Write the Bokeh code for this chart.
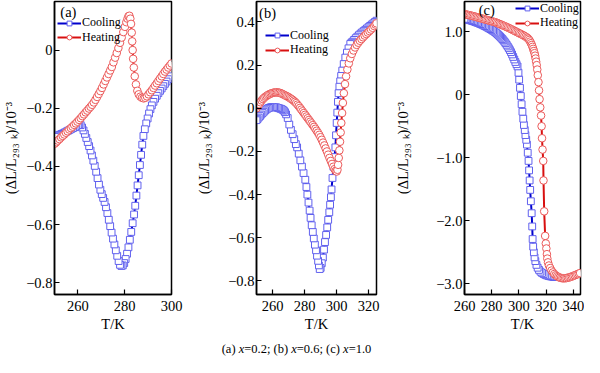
from bokeh.plotting import figure
from bokeh.models import (Range1d, FixedTicker, CustomJSTickFormatter, Label, Div,
                          ColumnDataSource, Legend, LegendItem)
from bokeh.layouts import row, column
from bokeh.embed import file_html
from bokeh.resources import INLINE

# ---------------- data (T in K, dL/L in 1e-3) ----------------
a_cool = [(300.0,-0.080),(299.3,-0.090),(298.6,-0.100),(297.9,-0.108),(297.2,-0.116),(296.5,-0.124),
          (295.8,-0.132),(295.1,-0.140),(294.4,-0.148),(293.7,-0.157),(293.0,-0.167),(292.3,-0.178),
          (291.6,-0.190),(291.0,-0.203),(290.4,-0.218),(289.8,-0.235),(289.2,-0.252),(288.6,-0.272),
          (288.0,-0.295),(287.5,-0.325),(287.0,-0.360),(286.5,-0.395),(286.0,-0.430),(285.5,-0.465),
          (285.0,-0.500),(284.5,-0.535),(284.0,-0.565),(283.4,-0.595),(282.8,-0.625),(282.2,-0.652),
          (281.6,-0.678),(281.0,-0.700),(280.4,-0.718),(279.8,-0.732),(279.2,-0.740),(278.6,-0.742),
          (278.0,-0.738),(277.4,-0.725),(276.8,-0.707),(276.2,-0.688),(275.6,-0.668),(275.0,-0.648),
          (274.4,-0.627),(273.8,-0.605),(273.2,-0.583),(272.6,-0.560),(272.0,-0.540),(271.4,-0.522),
          (270.8,-0.508),(270.2,-0.495),(269.6,-0.480),(269.0,-0.462),(268.4,-0.440),(267.8,-0.418),
          (267.2,-0.398),(266.6,-0.380),(266.0,-0.362),(265.4,-0.345),(264.8,-0.330),(264.2,-0.316),
          (263.6,-0.302),(263.0,-0.288),(262.4,-0.276),(261.8,-0.266),(261.2,-0.258),(260.6,-0.256),
          (260.0,-0.258),(259.3,-0.262),(258.6,-0.265),(257.9,-0.268),(257.2,-0.271),(256.5,-0.274),
          (255.8,-0.277),(255.1,-0.280),(254.4,-0.283),(253.7,-0.286),(253.0,-0.288),(252.3,-0.291),
          (251.6,-0.293),(250.9,-0.296),(250.2,-0.298)]

a_heat = [(250.0,-0.322),(250.7,-0.317),(251.4,-0.311),(252.1,-0.306),(252.8,-0.300),(253.5,-0.295),
          (254.2,-0.290),(254.9,-0.284),(255.6,-0.279),(256.3,-0.273),(257.0,-0.268),(257.7,-0.263),
          (258.4,-0.257),(259.1,-0.252),(259.8,-0.246),(260.5,-0.240),(261.2,-0.234),(261.9,-0.227),
          (262.6,-0.221),(263.3,-0.214),(264.0,-0.208),(264.7,-0.201),(265.4,-0.195),(266.1,-0.188),
          (266.8,-0.180),(267.5,-0.171),(268.2,-0.161),(268.9,-0.151),(269.6,-0.141),(270.3,-0.130),
          (271.0,-0.118),(271.7,-0.106),(272.4,-0.094),(273.1,-0.082),(273.8,-0.070),(274.5,-0.058),
          (275.2,-0.042),(275.9,-0.026),(276.6,-0.010),(277.3,0.007),(278.0,0.025),(278.7,0.043),
          (279.4,0.062),(280.1,0.080),(280.7,0.096),(281.2,0.108),(281.6,0.116),(282.0,0.118),
          (282.4,0.108),(282.7,0.090),(283.0,0.060),(283.2,0.030),(283.4,0.000),(283.6,-0.030),
          (283.9,-0.060),(284.3,-0.090),(284.8,-0.118),(285.4,-0.140),(286.0,-0.152),(286.7,-0.160),
          (287.4,-0.164),(288.1,-0.166),(288.8,-0.164),(289.5,-0.159),(290.2,-0.152),(290.9,-0.145),
          (291.6,-0.138),(292.3,-0.130),(293.0,-0.122),(293.7,-0.114),(294.4,-0.106),(295.1,-0.098),
          (295.8,-0.090),(296.5,-0.082),(297.2,-0.074),(297.9,-0.067),(298.6,-0.060),(299.3,-0.053),
          (300.0,-0.046)]

b_cool = [(325.0,0.406),(324.0,0.400),(323.0,0.394),(322.0,0.388),(321.0,0.382),(320.0,0.376),
          (319.0,0.370),(318.0,0.364),(317.0,0.358),(316.0,0.352),(315.0,0.346),(314.0,0.339),
          (313.0,0.332),(312.0,0.325),(311.0,0.317),(310.0,0.309),(309.3,0.304),(308.6,0.298),
          (307.5,0.278),(306.5,0.258),(305.5,0.235),(304.5,0.205),(303.6,0.175),(302.9,0.150),
          (302.3,0.125),(301.8,0.100),(301.3,0.070),(300.9,0.030),(300.5,-0.020),(300.1,-0.068),
          (299.7,-0.125),(299.3,-0.181),(298.8,-0.226),(298.1,-0.271),(297.5,-0.323),(296.9,-0.376),
          (296.5,-0.412),(296.0,-0.447),(295.5,-0.482),(294.8,-0.517),(294.2,-0.552),(293.5,-0.587),
          (292.8,-0.620),(292.2,-0.655),(291.5,-0.692),(290.8,-0.718),(290.1,-0.740),(289.5,-0.745),
          (289.0,-0.728),(288.5,-0.707),(287.8,-0.683),(287.2,-0.658),(286.5,-0.632),(285.8,-0.603),
          (285.2,-0.573),(284.5,-0.542),(283.8,-0.508),(283.2,-0.474),(282.5,-0.437),(281.8,-0.400),
          (281.2,-0.365),(280.5,-0.331),(279.4,-0.300),(278.4,-0.270),(277.4,-0.241),(276.4,-0.210),
          (275.4,-0.181),(274.6,-0.166),(273.6,-0.143),(272.6,-0.120),(271.5,-0.100),(270.5,-0.075),
          (269.5,-0.045),(268.5,-0.028),(267.8,-0.018),(267.1,-0.011),(266.4,-0.007),(265.7,-0.004),
          (265.0,-0.002),(264.2,0.000),(263.4,0.002),(262.6,0.004),(261.8,0.005),(261.0,0.006),
          (260.2,0.006),(259.4,0.005),(258.6,0.004),(257.8,0.002),(257.0,-0.001),(256.2,-0.005),
          (255.4,-0.010),(254.6,-0.016),(253.8,-0.022),(253.0,-0.029),(252.2,-0.036),(251.4,-0.043),
          (250.6,-0.050),(250.0,-0.055)]

b_heat = [(250.0,0.000),(250.8,0.010),(251.6,0.019),(252.4,0.028),(253.2,0.036),(254.0,0.043),
          (254.8,0.049),(255.6,0.054),(256.4,0.058),(257.2,0.062),(258.0,0.065),(258.8,0.068),
          (259.6,0.070),(260.4,0.072),(261.2,0.073),(262.0,0.074),(262.8,0.074),(263.6,0.073),
          (264.4,0.072),(265.2,0.070),(266.0,0.067),(266.8,0.064),(267.6,0.061),(268.4,0.058),
          (269.2,0.055),(270.0,0.052),(270.8,0.048),(271.6,0.044),(272.4,0.040),(273.2,0.035),
          (274.0,0.030),(274.8,0.024),(275.6,0.017),(276.4,0.010),(277.2,0.002),(278.0,-0.006),
          (278.8,-0.014),(279.6,-0.022),(280.4,-0.030),(281.2,-0.038),(282.0,-0.046),(282.8,-0.054),
          (283.6,-0.062),(284.4,-0.070),(285.2,-0.078),(286.0,-0.086),(286.8,-0.095),(287.6,-0.104),
          (288.4,-0.113),(289.2,-0.123),(290.0,-0.134),(290.8,-0.146),(291.6,-0.159),(292.4,-0.172),
          (293.2,-0.186),(294.0,-0.200),(294.8,-0.215),(295.6,-0.230),(296.4,-0.244),(297.2,-0.258),
          (298.0,-0.271),(298.8,-0.282),(299.5,-0.290),(300.1,-0.293),(300.6,-0.285),(301.0,-0.262),
          (301.4,-0.230),(301.8,-0.195),(302.2,-0.155),(302.6,-0.112),(303.0,-0.068),(303.5,-0.022),
          (304.0,0.025),(304.6,0.070),(305.3,0.112),(306.0,0.148),(306.8,0.180),(307.7,0.208),
          (308.6,0.232),(309.6,0.252),(310.6,0.268),(311.6,0.282),(312.6,0.294),(313.6,0.304),
          (314.6,0.313),(315.6,0.321),(316.6,0.329),(317.6,0.337),(318.6,0.344),(319.6,0.351),
          (320.6,0.358),(321.6,0.365),(322.6,0.373),(323.6,0.381),(324.4,0.388),(325.0,0.394)]

c_cool = [(326.5,-2.894),(325.5,-2.891),(324.3,-2.887),(323.0,-2.882),(321.8,-2.876),(320.6,-2.868),
          (319.4,-2.858),(318.2,-2.845),(317.0,-2.828),(315.9,-2.808),(314.8,-2.780),(313.8,-2.745),
          (312.9,-2.700),(312.1,-2.640),(311.5,-2.580),(311.0,-2.500),(310.5,-2.410),(310.1,-2.290),
          (309.8,-2.090),(309.4,-1.880),(308.8,-1.690),(308.3,-1.510),(307.9,-1.360),(307.5,-1.200),
          (307.1,-1.050),(306.5,-0.920),(305.9,-0.790),(305.4,-0.715),(304.8,-0.640),(304.3,-0.560),
          (303.7,-0.480),(303.2,-0.380),(302.6,-0.270),(302.0,-0.150),(301.4,-0.020),(300.8,0.110),
          (300.2,0.240),(299.7,0.350),(299.0,0.450),(298.2,0.485),(297.4,0.520),(296.6,0.560),
          (295.8,0.600),(295.0,0.640),(294.2,0.676),(293.4,0.708),(292.6,0.738),(291.8,0.766),
          (291.0,0.793),(290.2,0.818),(289.4,0.842),(288.6,0.864),(287.8,0.885),(287.0,0.904),
          (286.2,0.922),(285.4,0.939),(284.6,0.955),(283.8,0.971),(283.0,0.986),(282.0,1.001),
          (281.0,1.015),(280.0,1.029),(279.0,1.042),(278.0,1.055),(277.0,1.067),(276.0,1.079),
          (275.0,1.090),(274.0,1.101),(273.0,1.111),(272.0,1.121),(271.0,1.130),(270.0,1.139),
          (269.0,1.147),(268.0,1.155),(267.0,1.163),(266.0,1.170),(265.0,1.177),(264.0,1.183),
          (263.0,1.189),(262.0,1.195),(261.0,1.200),(260.0,1.205)]

c_heat = [(260.0,1.280),(261.0,1.275),(262.0,1.270),(263.0,1.265),(264.0,1.260),(265.0,1.255),
          (266.0,1.250),(267.0,1.244),(268.0,1.238),(269.0,1.232),(270.0,1.226),(271.0,1.220),
          (272.0,1.214),(273.0,1.208),(274.0,1.202),(275.0,1.196),(276.0,1.190),(277.0,1.184),
          (278.0,1.178),(279.0,1.172),(280.0,1.166),(281.0,1.160),(282.0,1.154),(283.0,1.148),
          (284.0,1.139),(285.0,1.130),(286.0,1.121),(287.0,1.112),(288.0,1.103),(289.0,1.094),
          (290.0,1.085),(291.0,1.075),(292.0,1.065),(293.0,1.055),(294.0,1.045),(295.0,1.034),
          (296.0,1.023),(297.0,1.012),(298.0,1.001),(299.0,0.990),(300.0,0.979),(301.0,0.968),
          (302.0,0.957),(303.0,0.946),(304.0,0.934),(305.0,0.921),(306.0,0.906),(306.8,0.890),
          (307.6,0.870),(308.3,0.845),(308.9,0.818),(309.5,0.790),(310.0,0.760),(310.5,0.728),
          (311.0,0.694),(311.5,0.660),(311.9,0.620),(312.3,0.575),(312.7,0.525),(313.1,0.470),
          (313.5,0.400),(313.9,0.310),(314.4,0.200),(314.8,0.070),(315.2,-0.070),(315.7,-0.200),
          (316.3,-0.330),(316.7,-0.500),(317.0,-0.690),(317.4,-0.870),(317.9,-1.050),(318.1,-1.360),
          (318.6,-1.850),(319.3,-2.240),(319.8,-2.360),(320.2,-2.440),(320.6,-2.530),(320.9,-2.600),
          (321.4,-2.660),(322.1,-2.710),(323.0,-2.750),(324.0,-2.790),(325.0,-2.820),(326.0,-2.845),
          (327.0,-2.865),(328.0,-2.880),(329.0,-2.892),(330.0,-2.902),(331.0,-2.908),(332.0,-2.912),
          (333.0,-2.913),(334.0,-2.912),(335.0,-2.909),(336.0,-2.904),(337.0,-2.898),(338.0,-2.891),
          (339.0,-2.883),(340.0,-2.875),(341.0,-2.866),(342.0,-2.857),(343.0,-2.848),(344.0,-2.839),
          (345.0,-2.830)]

a_xticks = [260, 280, 300]
a_yticks = [-0.8, -0.6, -0.4, -0.2, 0.0]
b_xticks = [260, 280, 300, 320]
b_yticks = [-0.8, -0.6, -0.4, -0.2, 0.0, 0.2, 0.4]
c_xticks = [260, 280, 300, 320, 340]
c_yticks = [-3.0, -2.0, -1.0, 0.0, 1.0]

series_names = ["Cooling", "Heating"]
panel_tags = ["(a)", "(b)", "(c)"]
caption_html = "(a) <i>x</i>=0.2; (b) <i>x</i>=0.6; (c) <i>x</i>=1.0"
y_label = "(\u0394L/L\u2082\u2089\u2083 \u2096)/10\u207b\u00b3"
x_label = "T/K"

# ---------------- style ----------------
SERIF = "Liberation Serif"
COOL_LINE, COOL_MARK = "#0000cc", "#6060ee"
HEAT_LINE, HEAT_MARK = "#d81010", "#ec5a5a"
FIG_H = 341
FRAME_H = 293

yfmt = CustomJSTickFormatter(code="""
if (Math.abs(tick) < 1e-9) { return "0"; }
return tick.toFixed(1).replace("-", "\u2212");
""")


def src(pairs):
    return ColumnDataSource(data=dict(T=[p[0] for p in pairs], v=[p[1] for p in pairs]))


def style_legend(lg):
    lg.border_line_color = None
    lg.background_fill_alpha = 0
    lg.label_text_font = SERIF
    lg.label_text_font_size = "12px"
    lg.label_text_color = "black"
    lg.glyph_width = 24
    lg.glyph_height = 12
    lg.label_height = 12
    lg.label_standoff = 1
    lg.spacing = 0
    lg.padding = 0
    lg.margin = 0


def make_panel(width, left, right, xr, yr, xticks, yticks, label_standoff,
               cool, heat, tag, tag_xy, leg_x, row_offsets):
    p = figure(width=width, height=FIG_H, x_range=Range1d(*xr), y_range=Range1d(*yr),
               output_backend="svg", toolbar_location=None,
               min_border_left=left, min_border_right=right,
               min_border_top=1, min_border_bottom=FIG_H - 1 - FRAME_H, margin=0)
    p.grid.visible = False
    p.outline_line_color = "black"
    p.outline_line_width = 1.5
    p.background_fill_color = "white"
    p.border_fill_color = "white"

    for ax in (p.xaxis[0], p.yaxis[0]):
        ax.major_tick_in = 5
        ax.major_tick_out = 0
        ax.minor_tick_in = 0
        ax.minor_tick_out = 0
        ax.axis_line_width = 1.5
        ax.major_tick_line_width = 1.2
        ax.major_label_text_font = SERIF
        ax.major_label_text_font_size = "14.5px"
        ax.major_label_text_color = "black"
        ax.axis_label_text_font = SERIF
        ax.axis_label_text_font_size = "14.5px"
        ax.axis_label_text_font_style = "normal"
        ax.axis_label_text_color = "black"

    p.xaxis.ticker = FixedTicker(ticks=xticks, minor_ticks=[])
    p.yaxis.ticker = FixedTicker(ticks=yticks, minor_ticks=[])
    p.yaxis.formatter = yfmt
    p.xaxis.axis_label = x_label
    p.yaxis.axis_label = y_label
    p.xaxis.major_label_standoff = 6
    p.xaxis.axis_label_standoff = 2
    p.yaxis.major_label_standoff = 2
    p.yaxis.axis_label_standoff = label_standoff

    cs, hs = src(cool), src(heat)
    cl = p.line("T", "v", source=cs, line_color=COOL_LINE, line_width=2)
    cm = p.scatter("T", "v", source=cs, marker="square", size=6.8, line_color=COOL_MARK,
                   fill_color="white", line_width=1)
    hl = p.line("T", "v", source=hs, line_color=HEAT_LINE, line_width=2)
    hm = p.scatter("T", "v", source=hs, marker="circle", size=7.6, line_color=HEAT_MARK,
                   fill_color="white", line_width=1)

    p.add_layout(Label(x=tag_xy[0], y=tag_xy[1], text=tag, text_baseline="middle",
                       text_font=SERIF, text_font_size="14.5px", text_color="black"))

    for name, rends, off in ((series_names[0], [cl, cm], row_offsets[0]),
                             (series_names[1], [hl, hm], row_offsets[1])):
        lg = Legend(items=[LegendItem(label=name, renderers=rends)],
                    location=(leg_x, FRAME_H - off - 7))
        style_legend(lg)
        p.add_layout(lg)
    return p


p1 = make_panel(192, 51, 21, (250, 300), (-0.84, 0.167), a_xticks, a_yticks, 4,
                a_cool, a_heat, panel_tags[0], (252.5, 0.130), 3, (22.0, 36.5))
p2 = make_panel(200, 64, 16, (250, 325), (-0.863, 0.495), b_xticks, b_yticks, 13,
                b_cool, b_heat, panel_tags[1], (251.6, 0.443), 9, (34.5, 49.0))
p3 = make_panel(192, 71, 4, (260, 345.3), (-3.17, 1.48), c_xticks, c_yticks, 22,
                c_cool, c_heat, panel_tags[2], (270.4, 1.34), 51, (7.5, 22.0))

cap = Div(text=caption_html, width=584, height=16, margin=0,
          styles={"text-align": "center", "font-family": SERIF, "font-size": "12.5px",
                  "line-height": "16px", "color": "black", "padding-left": "9px",
                  "box-sizing": "border-box"})

layout = column(row(p1, p2, p3, margin=0, spacing=0), cap, margin=0, spacing=0)
open("out.html", "w").write(file_html(layout, INLINE))
